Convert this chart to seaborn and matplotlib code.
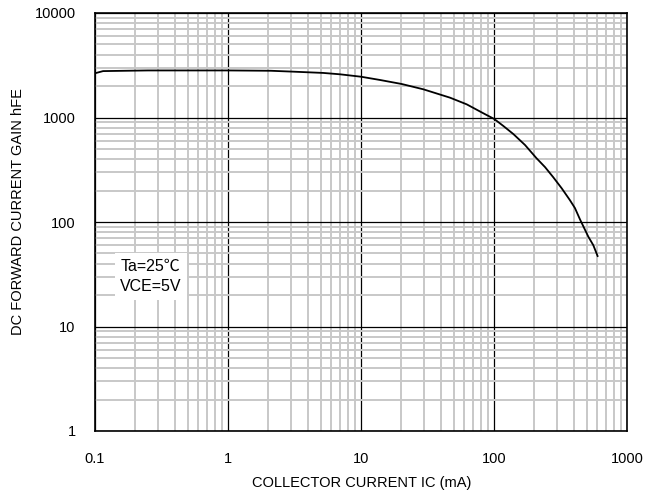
import numpy as np
import pandas as pd
import matplotlib
matplotlib.use("Agg")
import matplotlib.pyplot as plt
import seaborn as sns
from matplotlib.ticker import LogLocator, NullFormatter

# Data (Ic in mA, hFE)
ic_ma = [0.1, 0.115, 0.25, 0.5, 1.0, 2.1, 3.0, 5.2, 6.96, 10.0, 13.9, 20.2, 29.4, 46.7,
         62.3, 83.2, 100.5, 117.5, 139.7, 171, 209, 242, 279, 323, 372, 406, 443,
         512, 558, 602]
hfe = [2650, 2780, 2820, 2820, 2820, 2800, 2750, 2670, 2590, 2456, 2286, 2093, 1862, 1548,
       1337, 1097, 967, 830, 695, 546, 407, 335, 268, 210, 162, 136, 106,
       72.3, 60, 47]

x_ticks = [0.1, 1, 10, 100, 1000]
x_labels = ["0.1", "1", "10", "100", "1000"]
y_ticks = [1, 10, 100, 1000, 10000]
y_labels = ["1", "10", "100", "1000", "10000"]

sns.set_style("white")
plt.rcParams['font.family'] = ['Liberation Sans', 'Noto Sans CJK JP', 'DejaVu Sans']
plt.rcParams['text.color'] = 'black'
plt.rcParams['axes.labelcolor'] = 'black'
plt.rcParams['xtick.color'] = 'black'
plt.rcParams['ytick.color'] = 'black'

df = pd.DataFrame({"ic": ic_ma, "hfe": hfe})

fig = plt.figure(figsize=(6.48, 5.0), dpi=100)
ax = fig.add_axes([95/648, 1-431/500, (627-95)/648, (431-13)/500])

ax.set_xscale("log")
ax.set_yscale("log")
ax.set_xlim(0.1, 1000)
ax.set_ylim(1, 10000)

ax.xaxis.set_minor_locator(LogLocator(base=10, subs=np.arange(2, 10), numticks=50))
ax.yaxis.set_minor_locator(LogLocator(base=10, subs=np.arange(2, 10), numticks=50))
ax.xaxis.set_minor_formatter(NullFormatter())
ax.yaxis.set_minor_formatter(NullFormatter())
ax.grid(which="minor", color="#c8c8c8", linewidth=1.4, zorder=0)
ax.grid(which="major", color="black", linewidth=0.9, zorder=1)
ax.set_axisbelow(True)

sns.lineplot(data=df, x="ic", y="hfe", ax=ax, color="black", linewidth=1.3,
             estimator=None, sort=False, zorder=3)

ax.set_xticks(x_ticks, x_labels)
ax.set_yticks(y_ticks, y_labels)
ax.tick_params(axis="x", which="both", length=0, labelsize=10.5, pad=15, labelcolor="black")
ax.tick_params(axis="y", which="both", length=0, labelsize=10.5, pad=14, labelcolor="black")

for s in ax.spines.values():
    s.set_color("black")
    s.set_linewidth(1.2)

ax.set_xlabel("COLLECTOR CURRENT IC (mA)", fontsize=10.5, color="black")
ax.set_ylabel("DC FORWARD CURRENT GAIN hFE", fontsize=10.5, color="black")
ax.xaxis.set_label_coords(0.502, -0.108)
ax.yaxis.set_label_coords(-0.132, 0.524)

ax.text(0.155, 30, "Ta=25℃\nVCE=5V", fontsize=11.5, linespacing=1.45,
        va="center", ha="left", zorder=4, color="black",
        bbox=dict(facecolor="white", edgecolor="none", pad=4))

fig.savefig("out.png", dpi=100)
